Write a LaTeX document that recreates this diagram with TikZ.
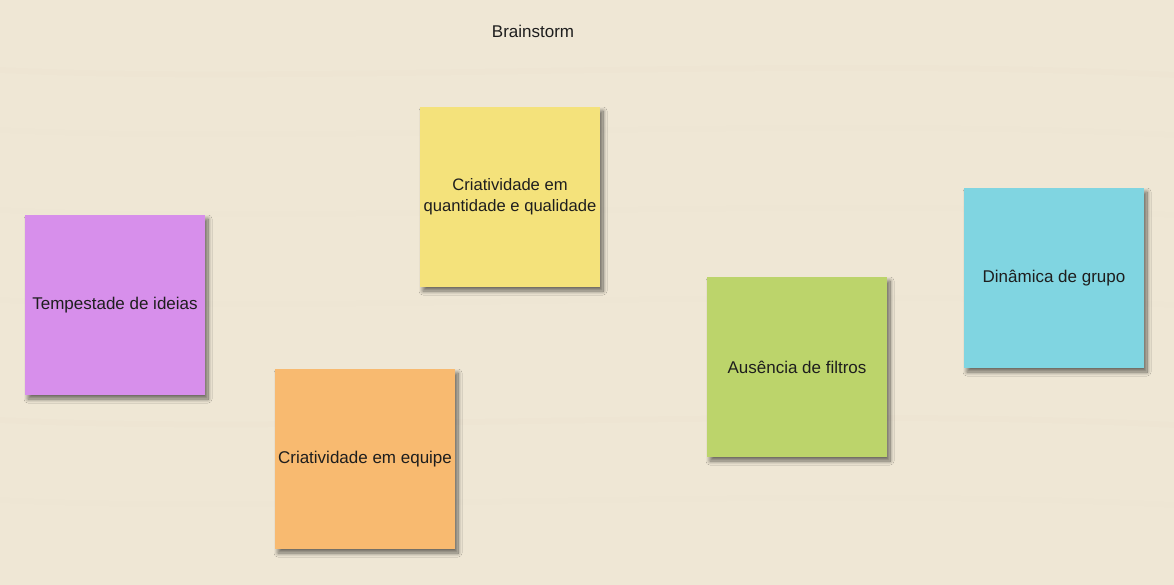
\documentclass[tikz,border=0pt]{standalone}
\usepackage{fontspec}
\setmainfont{Liberation Sans}
\usetikzlibrary{shadows.blur}
\definecolor{bgwood}{HTML}{EFE7D5}
\definecolor{stYellow}{HTML}{F4E27B}
\definecolor{stPurple}{HTML}{D78FEB}
\definecolor{stCyan}{HTML}{80D5E1}
\definecolor{stGreen}{HTML}{BCD46B}
\definecolor{stOrange}{HTML}{F8BA70}
\definecolor{txt}{HTML}{1E1E1E}
\tikzset{
  sticky/.style={rectangle, minimum width=180pt, minimum height=180pt, inner sep=0pt,
    align=center, font=\fontsize{17}{21}\selectfont, text=txt,
    blur shadow={shadow xshift=3pt, shadow yshift=-4pt, shadow blur steps=16, shadow opacity=55, shadow blur radius=4pt}},
}
\begin{document}
\begin{tikzpicture}[x=1pt,y=-1pt]
\fill[bgwood] (0,0) rectangle (1174,585);
\useasboundingbox (0,0) rectangle (1174,585);
\foreach \yy/\op in {70/6,130/5,210/4,300/5,420/6,500/4} {
  \draw[brown!60!black, opacity=0.\op*0.01, line width=6pt] (0,\yy) .. controls (300,\yy+15) and (800,\yy-15) .. (1174,\yy+5);
}
\node[font=\fontsize{17}{20}\selectfont, text=txt] (title) at (533,31) {Brainstorm};
\node[sticky, fill=stYellow, font=\fontsize{16.6}{21}\selectfont] (quant) at (510,197) {Criatividade em\\quantidade e qualidade};
\node[sticky, fill=stPurple] (tempest) at (115,305) {Tempestade de ideias};
\node[sticky, fill=stCyan] (dinamica) at (1054,278) {Dinâmica de grupo};
\node[sticky, fill=stGreen] (ausencia) at (797,367) {Ausência de filtros};
\node[sticky, fill=stOrange] (equipe) at (365,459) {Criatividade em equipe};
\end{tikzpicture}
\end{document}
